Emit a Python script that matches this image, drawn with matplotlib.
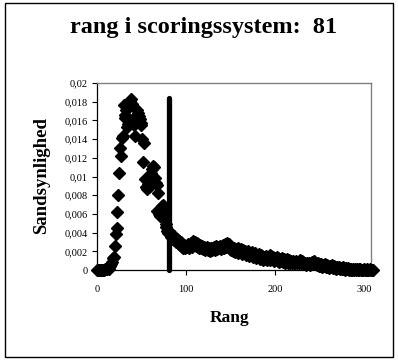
import matplotlib
matplotlib.use("Agg")
import matplotlib.pyplot as plt
from matplotlib.patches import Rectangle
from matplotlib.ticker import FuncFormatter

title = "rang i scoringssystem:  81"
xlabel = "Rang"
ylabel = "Sandsynlighed"
marked_rank = 81
marked_height = 0.0184

# probability per rank, in units of 1e-4 (rank 0..310)
prob_e4 = [
    0.3, 0.2, 0.0, 0.5, 0.1, 0.0, 0.3, 0.0, 0.5, 1.0,
    0.8, 1.5, 2.0, 1.5, 3.0, 4.0, 6.0, 9.0, 13, 14,
    26, 38, 45, 62, 80, 104, 131, 122, 141, 143,
    176, 166, 163, 171, 153, 156, 160, 181, 183, 178,
    162, 158, 155, 143, 164, 171, 168, 165, 162, 155,
    157, 140, 116, 136, 97, 89, 87, 92, 96, 89,
    100, 104, 108, 111, 110, 98, 93, 91, 63, 82,
    60, 58, 65, 68, 69, 62, 55, 46, 49, 42,
    40,
    42, 38, 35, 37, 33, 36, 32, 34, 30, 33,
    29, 31, 27, 30, 25, 28, 23, 27, 24, 26,
    25, 28, 24, 27, 26, 29, 25, 31, 27, 30,
    26, 29, 25, 28, 24, 27, 23, 26, 22, 25,
    21, 24, 22, 25, 21, 23, 20, 24, 21, 23,
    22, 25, 21, 26, 22, 25, 23, 26, 22, 25,
    23, 27, 24, 28, 25, 29, 26, 28, 22, 25,
    21, 24, 20, 23, 19, 22, 20, 23, 18, 21,
    19, 22, 17, 21, 18, 20, 16, 19, 17, 20,
    15, 18, 16, 19, 14, 17, 15, 18, 13, 16,
    14, 17, 12, 16, 13, 15, 11, 14, 12, 15,
    11, 14, 12, 16, 11, 15, 12, 14, 10, 13,
    11, 14, 10, 13, 9, 12, 10, 13, 9, 12,
    8, 11, 9, 12, 8, 11, 7, 10, 8, 10,
    7, 9, 8, 10, 7, 9, 8, 11, 7, 10,
    6, 9, 7, 8, 5, 8, 6, 7, 5, 8,
    6, 9, 7, 10, 6, 8, 5, 7, 4, 6,
    4, 6, 3, 5, 4, 6, 3, 5, 3, 4,
    2, 4, 3, 5, 2, 4, 2, 3, 1, 3,
    2, 3, 1, 2, 1, 3, 1, 2, 0, 2,
    1, 2, 0, 1, 0, 1, 0, 1, 0, 1,
    0, 1, 0, 1, 0, 1, 0, 0, 0, 1,
    0, 0, 1, 0, 0, 0, 1, 0, 0, 0,
]
ranks = list(range(len(prob_e4)))
probs = [v * 1e-4 for v in prob_e4]

x_ticks = [0, 100, 200, 300]
y_ticks = [i * 0.002 for i in range(11)]

plt.rcParams['font.family'] = ['Liberation Serif', 'DejaVu Serif']

W, H = 398, 363
fig = plt.figure(figsize=(W / 100, H / 100), dpi=100)
fig.patches.append(Rectangle((5 / W, 1 - 357 / H), 388 / W, 354 / H,
                             transform=fig.transFigure, fill=False,
                             edgecolor='black', linewidth=1.0))

ax = fig.add_axes([97 / W, 1 - 270 / H, (371 - 97) / W, (270 - 83) / H])
ax.plot(ranks, probs, linestyle='none', marker='D', markersize=6.5,
        color='black', clip_on=False, zorder=3)
ax.plot([marked_rank, marked_rank], [0, marked_height], color='black',
        linewidth=3.8, solid_capstyle='round', zorder=4, clip_on=False)

ax.set_xlim(0, 308)
ax.set_ylim(0, 0.02)
ax.set_xticks(x_ticks)
ax.set_yticks(y_ticks)


def yfmt(v, pos):
    s = ("%.3f" % v).rstrip('0').rstrip('.')
    return s.replace('.', ',')


ax.yaxis.set_major_formatter(FuncFormatter(yfmt))
ax.tick_params(axis='both', direction='out', length=3.5, width=0.8,
               labelsize=7.5, colors='black')
ax.tick_params(axis='x', pad=7)
ax.tick_params(axis='y', pad=3)

for s in ['top', 'right']:
    ax.spines[s].set_color('#808080')
    ax.spines[s].set_linewidth(1.0)
for s in ['left', 'bottom']:
    ax.spines[s].set_color('black')
    ax.spines[s].set_linewidth(0.9)

fig.text(0.5 * (70 + 338) / W, 1 - 28 / H, title, ha='center', va='center',
         fontsize=17.5, fontweight='bold')
fig.text(42 / W, 1 - 175 / H, ylabel, ha='center', va='center',
         rotation=90, fontsize=13.5, fontweight='bold')
fig.text(230 / W, 1 - 318 / H, xlabel, ha='center', va='center',
         fontsize=12.5, fontweight='bold')

fig.savefig("out.png", dpi=100)
